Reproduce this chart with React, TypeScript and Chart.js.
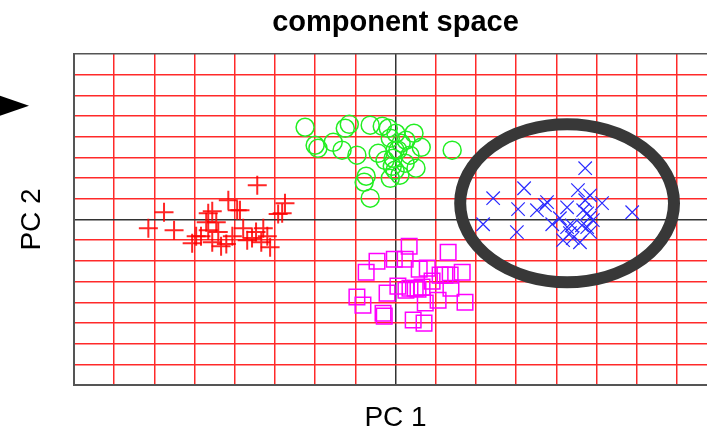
import React, { useEffect, useRef } from "react";
import { Chart, registerables } from "chart.js";

Chart.register(...registerables);

// ---- text ----
const TITLE = "component space";
const X_LABEL = "PC 1";
const Y_LABEL = "PC 2";

// ---- axes (grid units) ----
const AXIS_MIN = -8;
const AXIS_MAX = 8;

// ---- series: red crosses ----
const redX = [-3.44, -2.75, -2.92, -4.16, -3.94, -5.76, -6.15, -5.51, -5.06, -4.96, -4.66, -4.56, -4.71, -4.66, -4.46, -4.34, -4.21, -4.41, -3.87, -3.57, -3.47, -3.29, -3.12, -2.82, -3.79, -4.06, -3.69, -4.84, -4.56, -3.34, -3.19];
const redY = [1.66, 0.79, 0.26, 0.93, 0.45, 0.35, -0.42, -0.52, -1.15, -0.81, 0.30, 0.40, -0.13, -0.52, -0.13, -1.29, -1.19, -0.61, 0.45, -0.90, -0.61, -0.42, -1.34, 0.30, -0.42, -0.81, -1.00, -0.81, -1.10, -1.10, -0.81];

// ---- series: green circles ----
const greenX = [-2.25, -2.00, -1.93, -1.55, -1.33, -1.25, -1.15, -0.96, -0.63, -0.33, -0.18, -0.43, -0.73, -0.78, -0.63, -0.13, 0.01, -0.06, -0.08, -0.01, -0.13, 0.14, 0.26, 0.46, 0.64, 0.51, 0.24, 0.36, 1.41, 0.06, -0.26, 0.11, -0.01];
const greenY = [4.46, 3.59, 3.44, 3.73, 3.35, 4.41, 4.60, 3.11, 4.56, 4.51, 4.41, 3.20, 2.09, 1.80, 1.03, 3.93, 4.17, 2.96, 2.57, 2.38, 1.99, 3.69, 3.83, 4.17, 3.49, 2.48, 2.72, 3.11, 3.35, 3.35, 2.86, 2.14, 3.35];

// ---- series: magenta squares ----
const magentaX = [0.34, 1.31, -0.46, -0.73, -0.03, 0.24, 0.59, 0.79, 1.11, 1.23, 1.36, 1.66, -0.21, -0.96, -0.81, -0.31, -0.28, 0.26, 0.49, 0.56, 0.66, 0.74, 1.06, 1.38, 1.73, 0.44, 0.71, 0.36, 0.91, 0.06];
const magentaY = [-1.29, -1.58, -2.02, -2.55, -1.92, -1.92, -2.40, -2.35, -2.69, -2.69, -2.69, -2.55, -3.56, -3.75, -4.14, -4.53, -4.67, -3.42, -3.32, -3.37, -3.27, -4.04, -3.90, -3.32, -4.00, -4.86, -5.01, -3.32, -2.98, -3.22];

// ---- series: blue x marks ----
const blueX = [4.72, 2.43, 3.20, 3.05, 3.77, 3.72, 3.52, 2.18, 3.02, 4.27, 4.54, 4.84, 5.14, 5.89, 3.90, 4.27, 4.39, 4.67, 4.77, 4.84, 4.72, 4.64, 4.77, 4.84, 4.17, 4.41, 4.59, 4.34, 4.91, 4.09];
const blueY = [2.48, 1.03, 1.51, 0.50, 0.84, 0.69, 0.45, -0.23, -0.61, 0.59, 1.42, 1.17, 0.79, 0.35, -0.23, -0.37, -0.28, 0.45, 0.30, 0.11, 0.93, -0.28, -0.37, -0.61, -1.00, -0.90, -1.10, -0.66, -0.03, 0.06];

// ---- highlight ellipse (data units) ----
const ELLIPSE_CENTER = [4.27, 0.79];
const ELLIPSE_RADII = [2.66, 3.82];

// ---- marker pointing at the PC 2 level ----
const ARROW_LEVEL = 5.5;

const FONT = "'Liberation Sans', Arial, Helvetica, sans-serif";

function toPoints(xs: number[], ys: number[]) {
  return xs.map((x, i) => ({ x, y: ys[i] }));
}

function gridColor(ctx: any) {
  const v = ctx.tick ? ctx.tick.value : null;
  if (v === 0) return "#333333";
  if (v === AXIS_MIN || v === AXIS_MAX) return "#555555";
  return "#ff2a2a";
}

const overlayPlugin = {
  id: "overlay",
  afterDatasetsDraw(chart: any) {
    const { ctx, scales } = chart;
    const xs = scales.x;
    const ys = scales.y;
    const cx = xs.getPixelForValue(ELLIPSE_CENTER[0]);
    const cy = ys.getPixelForValue(ELLIPSE_CENTER[1]);
    const rx = Math.abs(xs.getPixelForValue(ELLIPSE_CENTER[0] + ELLIPSE_RADII[0]) - cx);
    const ry = Math.abs(ys.getPixelForValue(ELLIPSE_CENTER[1] + ELLIPSE_RADII[1]) - cy);
    ctx.save();
    ctx.beginPath();
    ctx.ellipse(cx, cy, rx, ry, 0, 0, Math.PI * 2);
    ctx.lineWidth = 12;
    ctx.strokeStyle = "#383838";
    ctx.stroke();
    ctx.restore();
  },
  afterDraw(chart: any) {
    const { ctx, scales, chartArea } = chart;
    const ty = scales.y.getPixelForValue(ARROW_LEVEL);
    const tipX = chartArea.left - 45;
    ctx.save();
    ctx.beginPath();
    ctx.moveTo(0, ty - 10);
    ctx.lineTo(tipX, ty);
    ctx.lineTo(0, ty + 10);
    ctx.closePath();
    ctx.fillStyle = "#000";
    ctx.fill();
    ctx.restore();
  },
};

export default function App() {
  const ref = useRef<HTMLCanvasElement | null>(null);

  useEffect(() => {
    if (!ref.current) return;
    Chart.defaults.font.family = FONT;
    const chart = new Chart(ref.current, {
      type: "scatter",
      data: {
        datasets: [
          {
            label: "red",
            data: toPoints(redX, redY),
            pointStyle: "cross",
            pointRadius: 9.5,
            borderColor: "rgba(255,0,0,0.85)",
            backgroundColor: "rgba(0,0,0,0)",
            borderWidth: 2,
          },
          {
            label: "green",
            data: toPoints(greenX, greenY),
            pointStyle: "circle",
            pointRadius: 9,
            borderColor: "#22ee22",
            backgroundColor: "rgba(0,0,0,0)",
            borderWidth: 1.5,
          },
          {
            label: "magenta",
            data: toPoints(magentaX, magentaY),
            pointStyle: "rect",
            pointRadius: 11,
            borderColor: "#ff00ff",
            backgroundColor: "rgba(0,0,0,0)",
            borderWidth: 1.5,
          },
          {
            label: "blue",
            data: toPoints(blueX, blueY),
            pointStyle: "crossRot",
            pointRadius: 9.5,
            borderColor: "#2a2aff",
            backgroundColor: "rgba(0,0,0,0)",
            borderWidth: 1.2,
          },
        ],
      },
      options: {
        animation: false,
        responsive: false,
        devicePixelRatio: 1,
        events: [],
        layout: { autoPadding: false, padding: { left: 0, right: 0, top: 0, bottom: 0 } },
        plugins: {
          legend: { display: false },
          tooltip: { enabled: false },
          title: {
            display: true,
            text: TITLE,
            fullSize: false,
            color: "#000",
            font: { family: FONT, size: 29, weight: "bold", lineHeight: 1 },
            padding: { top: 8, bottom: 17 },
          },
        },
        scales: {
          x: {
            type: "linear",
            min: AXIS_MIN,
            max: AXIS_MAX,
            ticks: { display: false, stepSize: 1 },
            grid: { color: gridColor, lineWidth: 1.5, drawTicks: false },
            border: { display: true, color: "#555555", width: 2 },
            title: {
              display: true,
              text: X_LABEL,
              color: "#000",
              font: { family: FONT, size: 28, lineHeight: 1 },
              padding: { top: 19.5, bottom: 0.5 },
            },
          },
          y: {
            type: "linear",
            min: AXIS_MIN,
            max: AXIS_MAX,
            ticks: { display: false, stepSize: 1 },
            grid: { color: gridColor, lineWidth: 1.5, drawTicks: false },
            border: { display: true, color: "#555555", width: 2 },
            title: {
              display: true,
              text: Y_LABEL,
              color: "#000",
              font: { family: FONT, size: 28, lineHeight: 1 },
              padding: { top: 18, bottom: 28 },
            },
          },
        },
      },
      plugins: [overlayPlugin],
    } as any);
    return () => chart.destroy();
  }, []);

  return (
    <div
      style={{
        position: "absolute",
        left: 0,
        top: 0,
        width: 707,
        height: 433,
        overflow: "hidden",
        background: "#fff",
      }}
    >
      <canvas ref={ref} width={717} height={433} style={{ display: "block", width: 717, height: 433 }} />
    </div>
  );
}
